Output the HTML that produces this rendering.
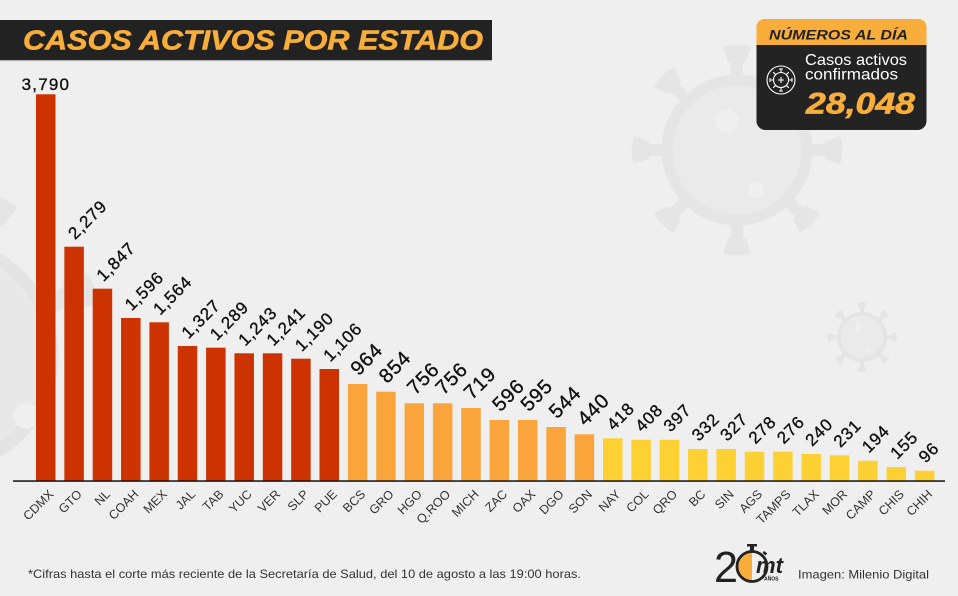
<!DOCTYPE html>
<html>
<head>
<meta charset="utf-8">
<style>
html,body{margin:0;padding:0;background:#efefef;}
svg{display:block;}
text{font-family:"Liberation Sans",sans-serif;}
</style>
</head>
<body>
<svg width="958" height="596" viewBox="0 0 958 596" xmlns="http://www.w3.org/2000/svg">
<rect x="0" y="0" width="958" height="596" fill="#efefef"/>

<!-- background virus decorations -->
<g transform="translate(737,150)">
  <circle r="70" fill="#eaeaea" stroke="#e5e5e5" stroke-width="11"/>
  <circle cx="-10" cy="-29" r="12" fill="#efefef"/>
  <circle cx="19" cy="40" r="8" fill="#efefef"/>
  <g fill="#e5e5e5">
    <g><rect x="-6" y="-90" width="12" height="15"/><path d="M-9,-88 L9,-88 L14,-103 Q0,-108 -14,-103 Z"/></g>
    <g transform="rotate(45)"><rect x="-6" y="-90" width="12" height="15"/><path d="M-9,-88 L9,-88 L14,-103 Q0,-108 -14,-103 Z"/></g>
    <g transform="rotate(90)"><rect x="-6" y="-90" width="12" height="15"/><path d="M-9,-88 L9,-88 L14,-103 Q0,-108 -14,-103 Z"/></g>
    <g transform="rotate(135)"><rect x="-6" y="-90" width="12" height="15"/><path d="M-9,-88 L9,-88 L14,-103 Q0,-108 -14,-103 Z"/></g>
    <g transform="rotate(180)"><rect x="-6" y="-90" width="12" height="15"/><path d="M-9,-88 L9,-88 L14,-103 Q0,-108 -14,-103 Z"/></g>
    <g transform="rotate(225)"><rect x="-6" y="-90" width="12" height="15"/><path d="M-9,-88 L9,-88 L14,-103 Q0,-108 -14,-103 Z"/></g>
    <g transform="rotate(270)"><rect x="-6" y="-90" width="12" height="15"/><path d="M-9,-88 L9,-88 L14,-103 Q0,-108 -14,-103 Z"/></g>
    <g transform="rotate(315)"><rect x="-6" y="-90" width="12" height="15"/><path d="M-9,-88 L9,-88 L14,-103 Q0,-108 -14,-103 Z"/></g>
  </g>
</g>
<g transform="translate(862,337) scale(0.33)">
  <circle r="70" fill="#eaeaea" stroke="#e4e4e4" stroke-width="11"/>
  <circle cx="-10" cy="-29" r="12" fill="#efefef"/>
  <circle cx="19" cy="40" r="8" fill="#efefef"/>
  <g fill="#e4e4e4">
    <g><rect x="-6" y="-90" width="12" height="15"/><path d="M-9,-88 L9,-88 L14,-103 Q0,-108 -14,-103 Z"/></g>
    <g transform="rotate(45)"><rect x="-6" y="-90" width="12" height="15"/><path d="M-9,-88 L9,-88 L14,-103 Q0,-108 -14,-103 Z"/></g>
    <g transform="rotate(90)"><rect x="-6" y="-90" width="12" height="15"/><path d="M-9,-88 L9,-88 L14,-103 Q0,-108 -14,-103 Z"/></g>
    <g transform="rotate(135)"><rect x="-6" y="-90" width="12" height="15"/><path d="M-9,-88 L9,-88 L14,-103 Q0,-108 -14,-103 Z"/></g>
    <g transform="rotate(180)"><rect x="-6" y="-90" width="12" height="15"/><path d="M-9,-88 L9,-88 L14,-103 Q0,-108 -14,-103 Z"/></g>
    <g transform="rotate(225)"><rect x="-6" y="-90" width="12" height="15"/><path d="M-9,-88 L9,-88 L14,-103 Q0,-108 -14,-103 Z"/></g>
    <g transform="rotate(270)"><rect x="-6" y="-90" width="12" height="15"/><path d="M-9,-88 L9,-88 L14,-103 Q0,-108 -14,-103 Z"/></g>
    <g transform="rotate(315)"><rect x="-6" y="-90" width="12" height="15"/><path d="M-9,-88 L9,-88 L14,-103 Q0,-108 -14,-103 Z"/></g>
  </g>
</g>
<g transform="translate(-60,355) scale(1.6)">
  <circle r="70" fill="#e8e8e8" stroke="#e4e4e4" stroke-width="8"/>
  <circle cx="54" cy="38" r="8" fill="#efefef"/>
  <g fill="#e5e5e5">
    <g transform="rotate(20)"><rect x="-6" y="-90" width="12" height="15"/><path d="M-9,-88 L9,-88 L14,-103 Q0,-108 -14,-103 Z"/></g>
    <g transform="rotate(65)"><rect x="-6" y="-90" width="12" height="15"/><path d="M-9,-88 L9,-88 L14,-103 Q0,-108 -14,-103 Z"/></g>
  </g>
</g>

<!-- title bar -->
<rect x="0" y="20" width="492" height="40" fill="#222222"/>
<rect x="0" y="60" width="492" height="1.2" fill="#b5b5b5"/>
<text x="23" y="49.5" font-size="28" font-weight="bold" font-style="italic" fill="#f9ad3b" stroke="#f9ad3b" stroke-width="0.6" textLength="460" lengthAdjust="spacingAndGlyphs">CASOS ACTIVOS POR ESTADO</text>

<!-- info box -->
<rect x="756.5" y="19" width="170" height="111" rx="9" fill="#232323"/>
<path d="M756.5,45 L756.5,28 Q756.5,19 765.5,19 L917.5,19 Q926.5,19 926.5,28 L926.5,45 Z" fill="#f9ae3c"/>
<text x="769" y="39.5" font-size="13.5" font-weight="bold" font-style="italic" fill="#222" textLength="139" lengthAdjust="spacingAndGlyphs">NÚMEROS AL DÍA</text>
<text x="805" y="65" font-size="16" fill="#ffffff" textLength="102" lengthAdjust="spacingAndGlyphs">Casos activos</text>
<text x="805" y="79.5" font-size="16" fill="#ffffff" textLength="93" lengthAdjust="spacingAndGlyphs">confirmados</text>
<text x="806" y="113.5" font-size="30" font-weight="bold" font-style="italic" fill="#f9ae3c" stroke="#f9ae3c" stroke-width="0.7" textLength="109" lengthAdjust="spacingAndGlyphs">28,048</text>
<g transform="translate(781,80)" stroke="#ffffff" fill="none" stroke-width="1.1">
  <circle r="14"/>
  <circle r="7.5"/>
  <path d="M0,-3 V3 M-3,0 H3"/>
  <path d="M0,-7.5 V-11 M-2,-11 H2 M0,7.5 V11 M-2,11 H2 M-7.5,0 H-11 M-11,-2 V2 M7.5,0 H11 M11,-2 V2"/>
  <path d="M5.3,-5.3 L7.8,-7.8 M-5.3,-5.3 L-7.8,-7.8 M5.3,5.3 L7.8,7.8 M-5.3,5.3 L-7.8,7.8"/>
</g>

<!-- bars -->
<g>
<rect x="36.00" y="94.3" width="19.5" height="386.7" fill="#cd3300"/>
<rect x="64.35" y="246.7" width="19.5" height="234.3" fill="#cd3300"/>
<rect x="92.70" y="288.7" width="19.5" height="192.3" fill="#cd3300"/>
<rect x="121.05" y="318" width="19.5" height="163" fill="#cd3300"/>
<rect x="149.40" y="322.3" width="19.5" height="158.7" fill="#cd3300"/>
<rect x="177.75" y="346" width="19.5" height="135" fill="#cd3300"/>
<rect x="206.10" y="347.7" width="19.5" height="133.3" fill="#cd3300"/>
<rect x="234.45" y="353.3" width="19.5" height="127.7" fill="#cd3300"/>
<rect x="262.80" y="353.3" width="19.5" height="127.7" fill="#cd3300"/>
<rect x="291.15" y="358.7" width="19.5" height="122.3" fill="#cd3300"/>
<rect x="319.50" y="369" width="19.5" height="112" fill="#cd3300"/>
<rect x="347.85" y="384" width="19.5" height="97" fill="#f9a53b"/>
<rect x="376.20" y="391.7" width="19.5" height="89.3" fill="#f9a53b"/>
<rect x="404.55" y="403.3" width="19.5" height="77.7" fill="#f9a53b"/>
<rect x="432.90" y="403.3" width="19.5" height="77.7" fill="#f9a53b"/>
<rect x="461.25" y="408" width="19.5" height="73" fill="#f9a53b"/>
<rect x="489.60" y="420" width="19.5" height="61" fill="#f9a53b"/>
<rect x="517.95" y="420" width="19.5" height="61" fill="#f9a53b"/>
<rect x="546.30" y="427" width="19.5" height="54" fill="#f9a53b"/>
<rect x="574.65" y="434.3" width="19.5" height="46.7" fill="#f9a53b"/>
<rect x="603.00" y="438.3" width="19.5" height="42.7" fill="#fdd034"/>
<rect x="631.35" y="439.7" width="19.5" height="41.3" fill="#fdd034"/>
<rect x="659.70" y="439.7" width="19.5" height="41.3" fill="#fdd034"/>
<rect x="688.05" y="449" width="19.5" height="32" fill="#fdd034"/>
<rect x="716.40" y="449" width="19.5" height="32" fill="#fdd034"/>
<rect x="744.75" y="451.7" width="19.5" height="29.3" fill="#fdd034"/>
<rect x="773.10" y="451.7" width="19.5" height="29.3" fill="#fdd034"/>
<rect x="801.45" y="454" width="19.5" height="27" fill="#fdd034"/>
<rect x="829.80" y="455.3" width="19.5" height="25.7" fill="#fdd034"/>
<rect x="858.15" y="460.7" width="19.5" height="20.3" fill="#fdd034"/>
<rect x="886.50" y="467" width="19.5" height="14" fill="#fdd034"/>
<rect x="914.85" y="470.7" width="19.5" height="10.3" fill="#fdd034"/>
</g>

<!-- axis -->
<rect x="13" y="480.3" width="932" height="1.5" fill="#111111"/>

<!-- value labels -->
<g fill="#111111" stroke="#111111" stroke-width="0.35" letter-spacing="0.8">
<text x="45.9" y="90" font-size="17" text-anchor="middle" letter-spacing="1.2">3,790</text>
<g font-size="17">
<text transform="translate(75.1,240.2) rotate(-45)">2,279</text>
<text transform="translate(103.45,282.2) rotate(-45)">1,847</text>
<text transform="translate(131.8,311.5) rotate(-45)">1,596</text>
<text transform="translate(160.15,315.8) rotate(-45)">1,564</text>
<text transform="translate(188.5,339.5) rotate(-45)">1,327</text>
<text transform="translate(216.85,341.2) rotate(-45)">1,289</text>
<text transform="translate(245.2,346.8) rotate(-45)">1,243</text>
<text transform="translate(273.55,346.8) rotate(-45)">1,241</text>
<text transform="translate(301.9,352.2) rotate(-45)">1,190</text>
<text transform="translate(330.25,362.5) rotate(-45)">1,106</text>
</g>
<g font-size="20">
<text transform="translate(358.6,376.5) rotate(-45)">964</text>
<text transform="translate(386.95,384.2) rotate(-45)">854</text>
<text transform="translate(415.3,395.8) rotate(-45)">756</text>
<text transform="translate(443.65,395.8) rotate(-45)">756</text>
<text transform="translate(472.0,400.5) rotate(-45)">719</text>
<text transform="translate(500.35,412.5) rotate(-45)">596</text>
<text transform="translate(528.7,412.5) rotate(-45)">595</text>
<text transform="translate(557.05,419.5) rotate(-45)">544</text>
<text transform="translate(585.4,426.8) rotate(-45)">440</text>
</g>
<g font-size="17">
<text transform="translate(613.75,431.3) rotate(-45)">418</text>
<text transform="translate(642.1,432.7) rotate(-45)">408</text>
<text transform="translate(670.45,432.7) rotate(-45)">397</text>
<text transform="translate(698.8,442) rotate(-45)">332</text>
<text transform="translate(727.15,442) rotate(-45)">327</text>
<text transform="translate(755.5,444.7) rotate(-45)">278</text>
<text transform="translate(783.85,444.7) rotate(-45)">276</text>
<text transform="translate(812.2,447) rotate(-45)">240</text>
<text transform="translate(840.55,448.3) rotate(-45)">231</text>
<text transform="translate(868.9,453.7) rotate(-45)">194</text>
<text transform="translate(897.25,460) rotate(-45)">155</text>
<text transform="translate(925.6,463.7) rotate(-45)">96</text>
</g>
</g>

<!-- category labels -->
<g fill="#333333" font-size="12.5" text-anchor="end">
<text transform="translate(54.25,495) rotate(-45)">CDMX</text>
<text transform="translate(82.6,495) rotate(-45)">GTO</text>
<text transform="translate(110.95,495) rotate(-45)">NL</text>
<text transform="translate(139.3,495) rotate(-45)">COAH</text>
<text transform="translate(167.65,495) rotate(-45)">MEX</text>
<text transform="translate(196.0,495) rotate(-45)">JAL</text>
<text transform="translate(224.35,495) rotate(-45)">TAB</text>
<text transform="translate(252.7,495) rotate(-45)">YUC</text>
<text transform="translate(281.05,495) rotate(-45)">VER</text>
<text transform="translate(309.4,495) rotate(-45)">SLP</text>
<text transform="translate(337.75,495) rotate(-45)">PUE</text>
<text transform="translate(366.1,495) rotate(-45)">BCS</text>
<text transform="translate(394.45,495) rotate(-45)">GRO</text>
<text transform="translate(422.8,495) rotate(-45)">HGO</text>
<text transform="translate(451.15,495) rotate(-45)">Q.ROO</text>
<text transform="translate(479.5,495) rotate(-45)">MICH</text>
<text transform="translate(507.85,495) rotate(-45)">ZAC</text>
<text transform="translate(536.2,495) rotate(-45)">OAX</text>
<text transform="translate(564.55,495) rotate(-45)">DGO</text>
<text transform="translate(592.9,495) rotate(-45)">SON</text>
<text transform="translate(621.25,495) rotate(-45)">NAY</text>
<text transform="translate(649.6,495) rotate(-45)">COL</text>
<text transform="translate(677.95,495) rotate(-45)">QRO</text>
<text transform="translate(706.3,495) rotate(-45)">BC</text>
<text transform="translate(734.65,495) rotate(-45)">SIN</text>
<text transform="translate(763.0,495) rotate(-45)">AGS</text>
<text transform="translate(791.35,495) rotate(-45)">TAMPS</text>
<text transform="translate(819.7,495) rotate(-45)">TLAX</text>
<text transform="translate(848.05,495) rotate(-45)">MOR</text>
<text transform="translate(876.4,495) rotate(-45)">CAMP</text>
<text transform="translate(904.75,495) rotate(-45)">CHIS</text>
<text transform="translate(933.1,495) rotate(-45)">CHIH</text>
</g>

<!-- footer -->
<text x="28" y="578" font-size="12" fill="#333333" textLength="553" lengthAdjust="spacingAndGlyphs">*Cifras hasta el corte más reciente de la Secretaría de Salud, del 10 de agosto a las 19:00 horas.</text>
<text x="798" y="578.3" font-size="12" fill="#333333" textLength="131" lengthAdjust="spacingAndGlyphs">Imagen: Milenio Digital</text>

<!-- logo -->
<g>
  <text x="714" y="582" font-size="44" fill="#222222" textLength="24" lengthAdjust="spacingAndGlyphs">2</text>
  <path d="M752,551.5 A15,15 0 0 0 752,581.5 Z" fill="#f9ae3c"/>
  <circle cx="752" cy="566.5" r="15" fill="none" stroke="#222222" stroke-width="2.8"/>
  <rect x="750" y="546" width="4" height="5" fill="#222222"/>
  <rect x="747" y="544" width="10" height="2.5" fill="#222222"/>
  <rect x="763" y="552" width="4" height="2.5" fill="#222222" transform="rotate(40 765 553)"/>
  <text x="756" y="573" font-size="22" font-weight="bold" font-style="italic" fill="#222222" textLength="27" lengthAdjust="spacingAndGlyphs">mt</text>
  <text x="764" y="580.5" font-size="5" font-weight="bold" fill="#222222">AÑOS</text>
</g>
</svg>
</body>
</html>
